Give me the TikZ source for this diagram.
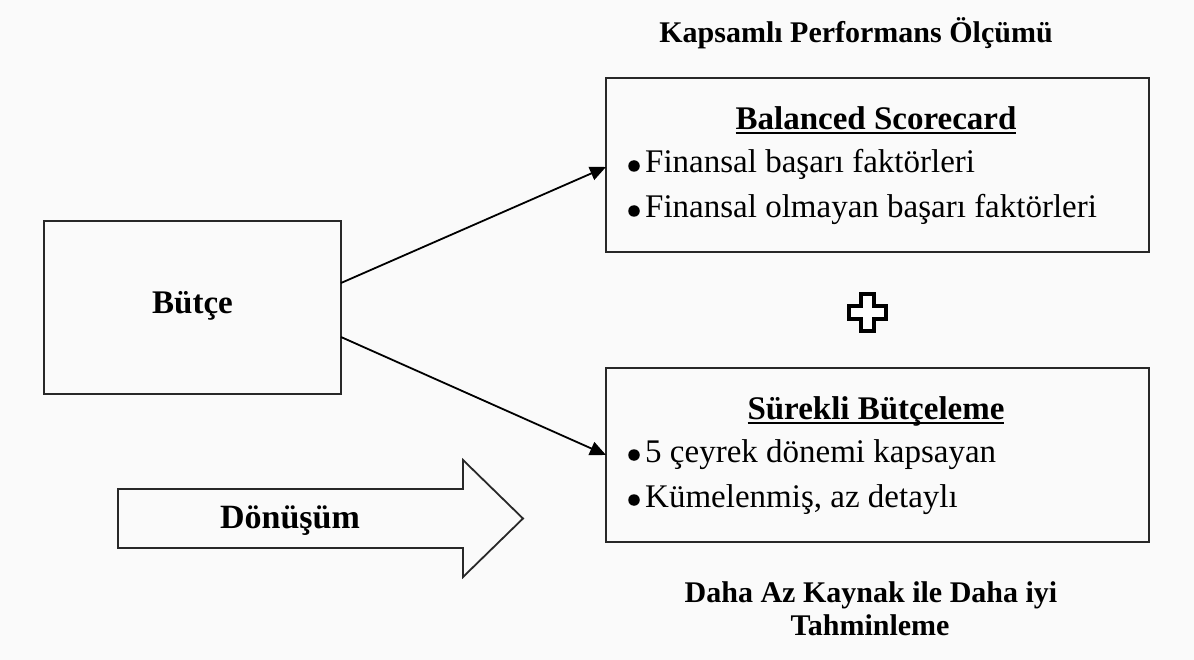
\documentclass[tikz,border=0pt]{standalone}
\usepackage{fontspec}
\setmainfont{Liberation Serif}
\newcommand\thickul[1]{\leavevmode\setbox0\hbox{#1}\rlap{\raisebox{-4.5pt}{\rule{\wd0}{2pt}}}\box0}
\usetikzlibrary{arrows.meta}
\definecolor{bgc}{RGB}{250,250,250}
\definecolor{linec}{RGB}{40,40,40}
\begin{document}
\begin{tikzpicture}[x=1pt,y=-1pt,
  boxstyle/.style={draw=linec,line width=1.8pt,inner sep=0pt,outer sep=0pt,rectangle},
  bodytxt/.style={inner sep=0pt,anchor=base west,font=\fontsize{33}{40}\selectfont},
  headtxt/.style={inner sep=0pt,anchor=base,font=\fontsize{33}{40}\selectfont\bfseries},
  lbltxt/.style={inner sep=0pt,anchor=base,font=\fontsize{30}{36}\selectfont\bfseries},
  bulletdot/.style={circle,fill=black,inner sep=0pt,minimum size=11.5pt},
  conn/.style={draw=black,line width=1.8pt,-{Triangle[length=16pt,width=14pt]}},
  blockarrow/.style={draw=linec,line width=1.8pt,fill=bgc,line join=miter},
  plusstyle/.style={draw=black,line width=4pt,fill=white,line join=miter}]
\useasboundingbox[fill=bgc] (0,0) rectangle (1194,660);

% title
\node[lbltxt] (toplbl) at (856,43) {Kapsamlı Performans Ölçümü};

% boxes
\node[boxstyle,minimum width=543pt,minimum height=174pt] (bsc) at (877.5,165) {};
\node[boxstyle,minimum width=543pt,minimum height=174pt] (sb) at (877.5,455) {};
\node[boxstyle,minimum width=297pt,minimum height=173pt] (butce) at (192.5,307.5) {};

% box texts
\node[headtxt] (butcet) at (192.5,314) {Bütçe};

\node[headtxt] (bsct) at (876,130) {\thickul{Balanced Scorecard}};
\node[bulletdot] (bsb1) at (634,166) {};
\node[bodytxt] (bsl1) at (645,173) {Finansal başarı faktörleri};
\node[bulletdot] (bsb2) at (634,211) {};
\node[bodytxt] (bsl2) at (645,218) {Finansal olmayan başarı faktörleri};

\node[headtxt] (sbt) at (876,419) {\thickul{Sürekli Bütçeleme}};
\node[bulletdot] (sbb1) at (634,455) {};
\node[bodytxt] (sbl1) at (645,462) {5 çeyrek dönemi kapsayan};
\node[bulletdot] (sbb2) at (634,500) {};
\node[bodytxt] (sbl2) at (645,507) {Kümelenmiş, az detaylı};

% connectors
\draw[conn] ([yshift=24.5pt]butce.east) -- ([yshift=-2pt]bsc.west);
\draw[conn] ([yshift=-29.5pt]butce.east) -- (sb.west);

% plus sign
\draw[plusstyle] (861,294) -- (874,294) -- (874,306) -- (886,306) -- (886,319) -- (874,319)
  -- (874,331) -- (861,331) -- (861,319) -- (849,319) -- (849,306) -- (861,306) -- cycle;

% block arrow
\draw[blockarrow] (118,489) -- (463,489) -- (463,460) -- (523,518.5) -- (463,577)
  -- (463,548) -- (118,548) -- cycle;
\node[headtxt,font=\fontsize{34}{40}\selectfont\bfseries] (donusum) at (290,528) {Dönüşüm};

% bottom label
\node[lbltxt] (botl1) at (871,602) {Daha Az Kaynak ile Daha iyi};
\node[lbltxt] (botl2) at (870,635) {Tahminleme};
\end{tikzpicture}
\end{document}
